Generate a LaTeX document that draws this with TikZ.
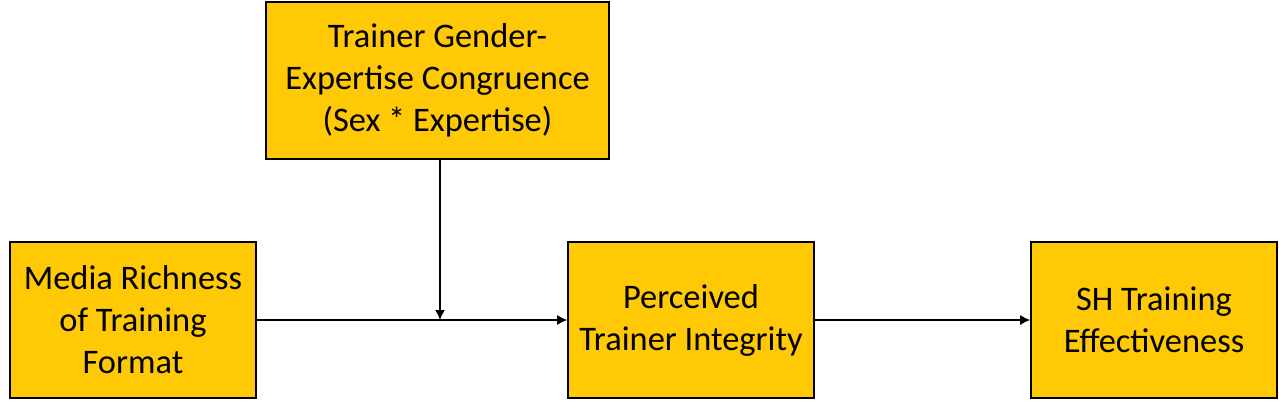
\documentclass[tikz,border=0pt]{standalone}
\usepackage{fontspec}
\setmainfont{Carlito}
\usetikzlibrary{arrows.meta}
\definecolor{boxgold}{HTML}{FFC905}

\begin{document}
\begin{tikzpicture}[
    box/.style={rectangle, draw=black, line width=0.9pt, fill=boxgold, minimum width=4.92cm, minimum height=3.12cm, align=center, font=\fontsize{19.6}{23.9}\selectfont},
    arrow/.style={-{Latex[length=2mm,width=2mm]}, line width=0.8pt}
]
\useasboundingbox (0,0) rectangle (25.58,8.16);
\node[box, minimum width=6.86cm, minimum height=3.14cm] (congruence) at (8.75,6.55) {Trainer Gender-\\Expertise Congruence\\(Sex * Expertise)};
\node[box] (richness) at (2.66,1.76) {Media Richness\\of Training\\Format};
\node[box] (integrity) at (13.82,1.76) {Perceived\\Trainer Integrity};
\node[box] (effect) at (23.08,1.76) {SH Training\\Effectiveness};
\coordinate (moderate) at (8.8,1.76);

\draw[arrow] (richness) -- (integrity);
\draw[arrow] (integrity) -- (effect);
\draw[arrow] (congruence.south -| moderate) -- (moderate);
\end{tikzpicture}
\end{document}
